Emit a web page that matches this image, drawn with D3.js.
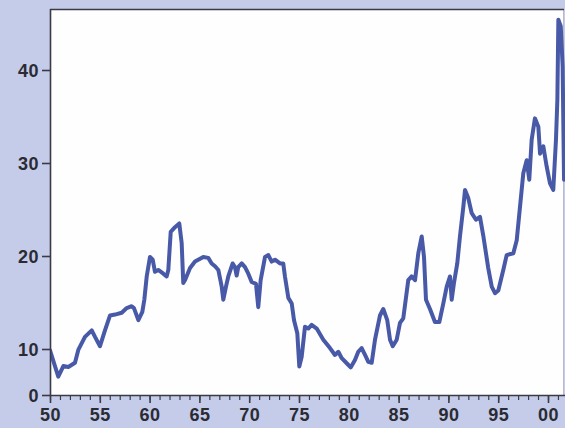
<!DOCTYPE html>
<html>
<head>
<meta charset="utf-8">
<script src="https://cdn.jsdelivr.net/npm/d3@7"></script>
<style>
  html, body { margin: 0; padding: 0; background: #c5cce9; }
  svg { display: block; }
  .tick text { font-family: "Liberation Sans", Arial, sans-serif; font-weight: bold; fill: #2a2b33; }
</style>
</head>
<body>
<svg id="chart" width="565" height="428"></svg>
<script>
// ---- data ----
const years = [
  1950.0, 1950.83, 1951.34, 1951.84, 1952.51, 1952.84, 1953.51, 1954.19, 1954.52, 1955.02,
  1955.52, 1956.02, 1956.53, 1957.2, 1957.7, 1958.2, 1958.43, 1958.87, 1959.27, 1959.47,
  1959.71, 1960.04, 1960.31, 1960.54, 1960.87, 1961.38, 1961.71, 1961.88, 1962.12, 1962.55,
  1962.98, 1963.22, 1963.38, 1963.55, 1964.06, 1964.56, 1965.39, 1965.89, 1966.23, 1966.57,
  1966.9, 1967.24, 1967.4, 1967.67, 1967.9, 1968.34, 1968.57, 1968.74, 1968.9, 1969.25,
  1969.58, 1969.91, 1970.25, 1970.68, 1970.91, 1971.15, 1971.59, 1971.92, 1972.26, 1972.59,
  1973.09, 1973.42, 1973.59, 1973.93, 1974.27, 1974.5, 1974.83, 1975.03, 1975.27, 1975.6,
  1975.93, 1976.27, 1976.78, 1977.44, 1978.11, 1978.61, 1978.95, 1979.29, 1979.79, 1980.19,
  1980.62, 1980.95, 1981.29, 1981.63, 1981.96, 1982.3, 1982.63, 1983.13, 1983.46, 1983.86,
  1984.14, 1984.41, 1984.81, 1985.14, 1985.47, 1985.97, 1986.31, 1986.65, 1986.98, 1987.32,
  1987.55, 1987.75, 1988.15, 1988.65, 1989.09, 1989.49, 1989.83, 1990.16, 1990.33, 1990.56,
  1990.89, 1991.16, 1991.5, 1991.67, 1992.0, 1992.34, 1992.77, 1993.17, 1993.5, 1994.0,
  1994.35, 1994.68, 1995.01, 1995.51, 1995.85, 1996.52, 1996.86, 1997.19, 1997.52, 1997.86,
  1998.12, 1998.36, 1998.69, 1999.03, 1999.2, 1999.53, 1999.87, 2000.2, 2000.53, 2000.8,
  2000.94, 2001.04, 2001.28, 2001.47, 2001.61
];
const values = [
  9.7, 4.0, 6.3, 6.1, 7.0, 9.8, 11.3, 12.0, 11.3, 10.3,
  12.0, 13.6, 13.7, 13.9, 14.4, 14.6, 14.4, 13.1, 14.0, 15.3,
  17.8, 19.9, 19.6, 18.3, 18.5, 18.1, 17.8, 18.5, 22.6, 23.1,
  23.5, 21.4, 17.1, 17.4, 18.7, 19.4, 19.9, 19.8, 19.2, 18.9,
  18.5, 16.7, 15.3, 16.7, 17.8, 19.2, 18.8, 17.9, 18.8, 19.2,
  18.8, 18.1, 17.2, 17.0, 14.5, 17.4, 19.9, 20.1, 19.4, 19.6,
  19.2, 19.2, 17.8, 15.5, 14.9, 13.1, 11.7, 6.2, 8.3, 12.4,
  12.2, 12.6, 12.2, 11.0, 10.1, 8.7, 9.4, 8.0, 6.9, 6.0,
  7.6, 9.4, 10.1, 8.7, 7.2, 7.0, 11.0, 13.6, 14.3, 13.1,
  11.0, 10.3, 11.0, 12.8, 13.3, 17.4, 17.8, 17.4, 20.3, 22.1,
  19.9, 15.3, 14.3, 12.9, 12.9, 14.9, 16.7, 17.8, 15.3, 17.1,
  19.2, 22.1, 25.3, 27.1, 26.2, 24.6, 23.9, 24.2, 22.2, 18.7,
  16.7, 16.0, 16.3, 18.5, 20.1, 20.3, 21.7, 25.3, 28.9, 30.3,
  28.2, 32.5, 34.8, 33.9, 31.0, 31.8, 29.6, 27.8, 27.1, 32.5,
  36.8, 45.4, 44.7, 40.4, 28.2
];
const yTicks = [0, 10, 20, 30, 40];
const xMajorTicks = [1950, 1955, 1960, 1965, 1970, 1975, 1980, 1985, 1990, 1995, 2000];
const xMinorTicks = d3.range(1950, 2002, 1);
const xTickLabels = ["50", "55", "60", "65", "70", "75", "80", "85", "90", "95", "00"];

// ---- layout ----
const svg = d3.select("#chart");
const pL = 50, pR = 563, pT = 9, pB = 395;

const x = d3.scaleLinear().domain([1950, 2000]).range([50, 548]);
// axis is compressed between 0 and 10 in the original
const y = d3.scaleLinear().domain([0, 10, 40]).range([395, 349, 70]);

// plot background
svg.append("rect")
  .attr("x", pL).attr("y", pT)
  .attr("width", pR - pL).attr("height", pB - pT)
  .attr("fill", "#fefefe");

// right border (light)
svg.append("line")
  .attr("x1", pR + 0.5).attr("x2", pR + 0.5)
  .attr("y1", pT).attr("y2", pB)
  .attr("stroke", "#b9bcc8").attr("stroke-width", 1);

// clip
svg.append("clipPath").attr("id", "clip")
  .append("rect").attr("x", pL).attr("y", pT)
  .attr("width", pR - pL + 2).attr("height", pB - pT);

// line
const data = years.map((yr, i) => ({ yr, v: values[i] }));
const line = d3.line().x(d => x(d.yr)).y(d => y(d.v));
svg.append("path")
  .datum(data)
  .attr("clip-path", "url(#clip)")
  .attr("fill", "none")
  .attr("stroke", "#4859a8")
  .attr("stroke-width", 4)
  .attr("stroke-linejoin", "round")
  .attr("stroke-linecap", "round")
  .attr("d", line);

// top border
svg.append("line")
  .attr("x1", pL).attr("x2", pR + 1)
  .attr("y1", pT + 0.5).attr("y2", pT + 0.5)
  .attr("stroke", "#3a3b44").attr("stroke-width", 1.6);

// y axis
const yAxis = svg.append("g")
  .attr("transform", `translate(${pL},0)`)
  .call(d3.axisLeft(y).tickValues(yTicks).tickSize(8).tickPadding(3).tickFormat(d3.format("d")));
yAxis.select(".domain").attr("stroke", "#3a3b44").attr("stroke-width", 1.6)
  .attr("d", `M0.5,${pT}V${pB}`);
yAxis.selectAll(".tick line").attr("stroke", "#3a3b44").attr("stroke-width", 1.6);
yAxis.selectAll(".tick text").style("font-size", "18px").attr("dy", "0.36em").attr("letter-spacing", "0.5");

// x axis minor ticks
const xMinor = svg.append("g")
  .attr("transform", `translate(0,${pB})`)
  .call(d3.axisBottom(x).tickValues(xMinorTicks).tickSize(5).tickFormat(""));
xMinor.select(".domain").attr("stroke", "#3a3b44").attr("stroke-width", 1.6)
  .attr("d", `M${pL},0.5H${pR + 2}`);
xMinor.selectAll(".tick line").attr("stroke", "#3a3b44").attr("stroke-width", 1.2);

// x axis major ticks and labels
const xMajor = svg.append("g")
  .attr("transform", `translate(0,${pB})`)
  .call(d3.axisBottom(x).tickValues(xMajorTicks).tickSize(8).tickPadding(5)
    .tickFormat((d, i) => xTickLabels[i]));
xMajor.select(".domain").remove();
xMajor.selectAll(".tick line").attr("stroke", "#3a3b44").attr("stroke-width", 1.6);
xMajor.selectAll(".tick text").style("font-size", "18px").attr("letter-spacing", "0.5");
</script>
</body>
</html>
